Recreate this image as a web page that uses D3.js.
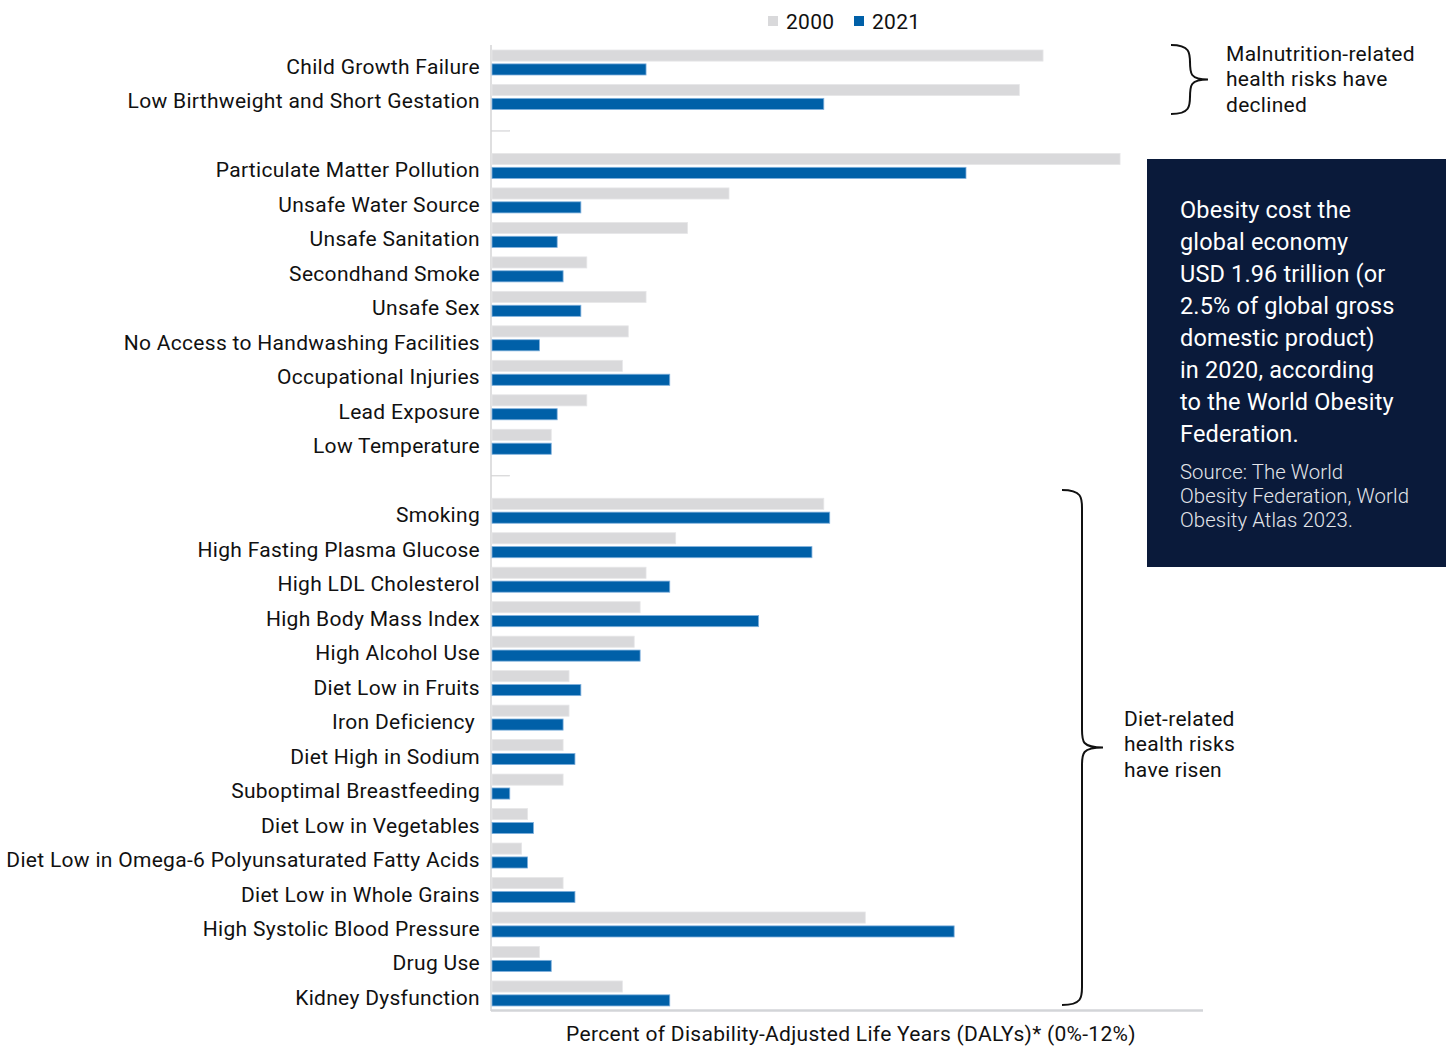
<!DOCTYPE html>
<html>
<head>
<meta charset="utf-8">
<script src="https://cdn.jsdelivr.net/npm/d3@7"></script>
<style>
  html, body { margin: 0; padding: 0; background: #fff; }
  svg { display: block; font-family: Roboto, "Noto Sans", sans-serif; }
</style>
</head>
<body>
<svg id="chart" width="1449" height="1047"></svg>
<script>
// ---- Data (percent of DALYs) ----
const categories = [
  "Child Growth Failure", "Low Birthweight and Short Gestation", "__gap1",
  "Particulate Matter Pollution", "Unsafe Water Source", "Unsafe Sanitation",
  "Secondhand Smoke", "Unsafe Sex", "No Access to Handwashing Facilities",
  "Occupational Injuries", "Lead Exposure", "Low Temperature", "__gap2",
  "Smoking", "High Fasting Plasma Glucose", "High LDL Cholesterol",
  "High Body Mass Index", "High Alcohol Use", "Diet Low in Fruits",
  "Iron Deficiency", "Diet High in Sodium", "Suboptimal Breastfeeding",
  "Diet Low in Vegetables", "Diet Low in Omega-6 Polyunsaturated Fatty Acids",
  "Diet Low in Whole Grains", "High Systolic Blood Pressure", "Drug Use",
  "Kidney Dysfunction"
];
const values2000 = [
  9.3, 8.9, null,
  10.6, 4.0, 3.3, 1.6, 2.6, 2.3, 2.2, 1.6, 1.0, null,
  5.6, 3.1, 2.6, 2.5, 2.4, 1.3, 1.3, 1.2, 1.2, 0.6, 0.5, 1.2, 6.3, 0.8, 2.2
];
const values2021 = [
  2.6, 5.6, null,
  8.0, 1.5, 1.1, 1.2, 1.5, 0.8, 3.0, 1.1, 1.0, null,
  5.7, 5.4, 3.0, 4.5, 2.5, 1.5, 1.2, 1.4, 0.3, 0.7, 0.6, 1.4, 7.8, 1.0, 3.0
];
const seriesNames = ["2000", "2021"];
const xDomain = [0, 12];
const axisTitle = "Percent of Disability-Adjusted Life Years (DALYs)* (0%-12%)";
const boxLines = [
  "Obesity cost the", "global economy", "USD 1.96 trillion (or",
  "2.5% of global gross", "domestic product)", "in 2020, according",
  "to the World Obesity", "Federation."
];
const sourceLines = ["Source: The World", "Obesity Federation, World", "Obesity Atlas 2023."];
const note1 = ["Malnutrition-related", "health risks have", "declined"];
const note2 = ["Diet-related", "health risks", "have risen"];

// ---- Layout ----
const colors = { "2000": "#d9d9db", "2021": "#0060a8" };
const strokes = { "2000": "#e6e6e8", "2021": "#7fb0dc" };
const svg = d3.select("#chart");
const FS = 21, LS = 0.3;

const x = d3.scaleLinear().domain(xDomain).range([492, 1203]);
const y = d3.scaleBand().domain(categories).range([50, 50 + 28 * 34.48]).paddingInner(0);
const ys = d3.scaleBand().domain(seriesNames).range([0, 25]).paddingInner(0.2);

const rows = categories.map((c, i) => ({ c, v: { "2000": values2000[i], "2021": values2021[i] } }));

// axis lines
svg.append("line").attr("x1", 491).attr("x2", 491).attr("y1", 45).attr("y2", 1011)
  .attr("stroke", "#d4d4d6").attr("stroke-width", 1.5);
svg.append("line").attr("x1", 491).attr("x2", x(12)).attr("y1", 1010.5).attr("y2", 1010.5)
  .attr("stroke", "#d3d5d8").attr("stroke-width", 2.5);

// gap ticks
rows.filter(r => r.c.startsWith("__")).forEach(r => {
  svg.append("line").attr("x1", 491).attr("x2", 510)
    .attr("y1", y(r.c) + 12).attr("y2", y(r.c) + 12)
    .attr("stroke", "#d4d4d6").attr("stroke-width", 1.2);
});

// bars
const g = svg.append("g");
rows.filter(r => !r.c.startsWith("__")).forEach(r => {
  seriesNames.forEach(s => {
    g.append("rect")
      .attr("x", x(0))
      .attr("y", y(r.c) + ys(s))
      .attr("width", x(r.v[s]) - x(0))
      .attr("height", ys.bandwidth())
      .attr("fill", colors[s])
      .attr("stroke", strokes[s])
      .attr("stroke-width", 0.8);
  });
});

function txt(sel) {
  return sel.attr("font-size", FS).attr("letter-spacing", LS).attr("fill", "#111");
}

// category labels
const labelLayer = svg.append("g");
rows.filter(r => !r.c.startsWith("__")).forEach(r => {
  labelLayer.append("text")
    .attr("x", r.c === "Iron Deficiency" ? 475 : 480)
    .attr("y", y(r.c) + 24)
    .attr("text-anchor", "end")
    .call(txt)
    .text(r.c);
});

// legend
const legendPos = [{ s: "2000", x: 768 }, { s: "2021", x: 854 }];
legendPos.forEach(d => {
  svg.append("rect").attr("x", d.x).attr("y", 16).attr("width", 10).attr("height", 10)
    .attr("fill", colors[d.s]);
  svg.append("text").attr("x", d.x + 18).attr("y", 28.5).call(txt).text(d.s);
});

// axis title
svg.append("text").attr("x", 851).attr("y", 1040.5)
  .attr("text-anchor", "middle").call(txt)
  .text(axisTitle);

// braces
function brace(x0, top, bottom, depth, tipX) {
  const mid = (top + bottom) / 2;
  const xv = x0 + depth;
  return `M${x0},${top} C${xv},${top} ${xv},${top + 8} ${xv},${top + 18}
          L${xv},${mid - 18} C${xv},${mid - 6} ${xv},${mid} ${tipX},${mid}
          C${xv},${mid} ${xv},${mid + 6} ${xv},${mid + 18}
          L${xv},${bottom - 18} C${xv},${bottom - 8} ${xv},${bottom} ${x0},${bottom}`;
}
svg.append("path").attr("d", brace(1171, 45, 114, 19, 1208))
  .attr("fill", "none").attr("stroke", "#111").attr("stroke-width", 2);
svg.append("path").attr("d", brace(1062, 490, 1005, 20, 1103))
  .attr("fill", "none").attr("stroke", "#111").attr("stroke-width", 2);

note1.forEach((t, i) => {
  svg.append("text").attr("x", 1226).attr("y", 60.5 + i * 25.5).call(txt).text(t);
});
note2.forEach((t, i) => {
  svg.append("text").attr("x", 1124).attr("y", 725.5 + i * 25.5).call(txt).text(t);
});

// info box
svg.append("rect").attr("x", 1147).attr("y", 159).attr("width", 299).attr("height", 408)
  .attr("fill", "#0a1a3a");
boxLines.forEach((t, i) => {
  svg.append("text").attr("x", 1180).attr("y", 218 + i * 32).attr("font-size", 23.5)
    .attr("letter-spacing", 0.15).attr("fill", "#ffffff").text(t);
});
sourceLines.forEach((t, i) => {
  svg.append("text").attr("x", 1180).attr("y", 479 + i * 24).attr("font-size", 20.3)
    .attr("font-weight", 300).attr("letter-spacing", 0.1).attr("fill", "#e4e6ea").text(t);
});
</script>
</body>
</html>
